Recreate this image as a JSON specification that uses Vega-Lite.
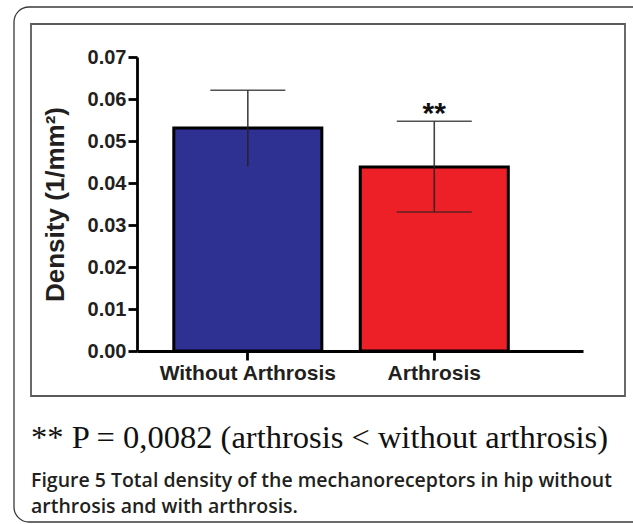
{
  "$schema": "https://vega.github.io/schema/vega-lite/v6.json",
  "autosize": "none",
  "width": 594,
  "height": 372,
  "padding": {"left": 31, "top": 24, "right": 8, "bottom": 128},
  "background": "white",
  "config": {
    "view": {"stroke": "#5a5a5a", "strokeWidth": 1.8},
    "axis": {"grid": false}
  },
  "title": {
    "text": "** P = 0,0082 (arthrosis < without arthrosis)",
    "subtitle": ["Figure 5 Total density of the mechanoreceptors in hip without", "arthrosis and with arthrosis."],
    "orient": "bottom",
    "anchor": "start",
    "frame": "group",
    "offset": -101,
    "font": "Liberation Serif",
    "fontSize": 32.5,
    "fontWeight": "normal",
    "color": "#111",
    "subtitleFont": "Open Sans",
    "subtitleFontSize": 19.5,
    "subtitleFontWeight": 600,
    "subtitleColor": "#231f20",
    "subtitlePadding": 18,
    "subtitleLineHeight": 26
  },
  "data": {
    "values": [
      {"group": "Without Arthrosis", "density": 0.0531, "lower": 0.0440, "upper": 0.0621, "sig": ""},
      {"group": "Arthrosis", "density": 0.0438, "lower": 0.0331, "upper": 0.0547, "sig": "**"}
    ]
  },
  "resolve": {"scale": {"x": "independent", "y": "independent"}},
  "layer": [
    {
      "data": {"values": [{}]},
      "mark": {"type": "rect", "filled": false, "stroke": "#3a3a3a", "strokeWidth": 1.3, "cornerRadius": 15},
      "encoding": {
        "x": {"datum": 0, "type": "quantitative", "scale": {"domain": [0, 1], "range": [-17, 625], "nice": false, "zero": false}, "axis": null},
        "x2": {"datum": 1},
        "y": {"datum": 0, "type": "quantitative", "scale": {"domain": [0, 1], "range": [-17, 498], "nice": false, "zero": false}, "axis": null},
        "y2": {"datum": 1}
      }
    },
    {
      "encoding": {
        "x": {
          "field": "group",
          "type": "nominal",
          "sort": ["Without Arthrosis", "Arthrosis"],
          "scale": {"range": [106, 552], "paddingInner": 0.206, "paddingOuter": 0.299, "align": 0.33},
          "axis": {
            "title": null,
            "orient": "bottom",
            "offset": -45,
            "labelAngle": 0,
            "domainColor": "#000",
            "domainWidth": 2.8,
            "tickColor": "#000",
            "tickWidth": 2.8,
            "tickSize": 9,
            "labelFont": "Liberation Sans",
            "labelFontSize": 21,
            "labelFontWeight": "bold",
            "labelColor": "#231f20",
            "labelPadding": 2
          }
        },
        "y": {
          "type": "quantitative",
          "scale": {"domain": [0, 0.07], "range": [327, 33], "nice": false, "zero": true},
          "axis": {
            "title": "Density (1/mm²)",
            "orient": "left",
            "offset": -106,
            "values": [0, 0.01, 0.02, 0.03, 0.04, 0.05, 0.06, 0.07],
            "format": ".2f",
            "domainColor": "#000",
            "domainWidth": 2.8,
            "tickColor": "#000",
            "tickWidth": 2.8,
            "tickSize": 9,
            "labelFont": "Liberation Sans",
            "labelFontSize": 20,
            "labelFontWeight": "bold",
            "labelColor": "#231f20",
            "labelPadding": 2,
            "titleFont": "Liberation Sans",
            "titleFontSize": 26,
            "titleFontWeight": "bold",
            "titleColor": "#231f20",
            "titlePadding": 19
          }
        }
      },
      "layer": [
        {
          "mark": {"type": "bar", "stroke": "#000", "strokeWidth": 3},
          "encoding": {
            "y": {"field": "density"},
            "fill": {"field": "group", "type": "nominal", "scale": {"domain": ["Without Arthrosis", "Arthrosis"], "range": ["#2e3192", "#ed1f27"]}, "legend": null}
          }
        },
        {
          "mark": {"type": "rule", "color": "#222", "strokeWidth": 1.6, "opacity": 0.85},
          "encoding": {"y": {"field": "lower"}, "y2": {"field": "upper"}}
        },
        {
          "mark": {"type": "tick", "color": "#333", "thickness": 1.6, "size": 75, "opacity": 0.85},
          "encoding": {"y": {"field": "upper"}}
        },
        {
          "transform": [{"filter": "datum.group === 'Arthrosis'"}],
          "mark": {"type": "tick", "color": "#222", "thickness": 1.6, "size": 75, "opacity": 0.7},
          "encoding": {"y": {"field": "lower"}}
        },
        {
          "mark": {"type": "text", "font": "Liberation Sans", "fontSize": 30, "fontWeight": "bold", "color": "#111", "baseline": "alphabetic", "dy": 2},
          "encoding": {"y": {"field": "upper"}, "text": {"field": "sig"}}
        }
      ]
    }
  ]
}
